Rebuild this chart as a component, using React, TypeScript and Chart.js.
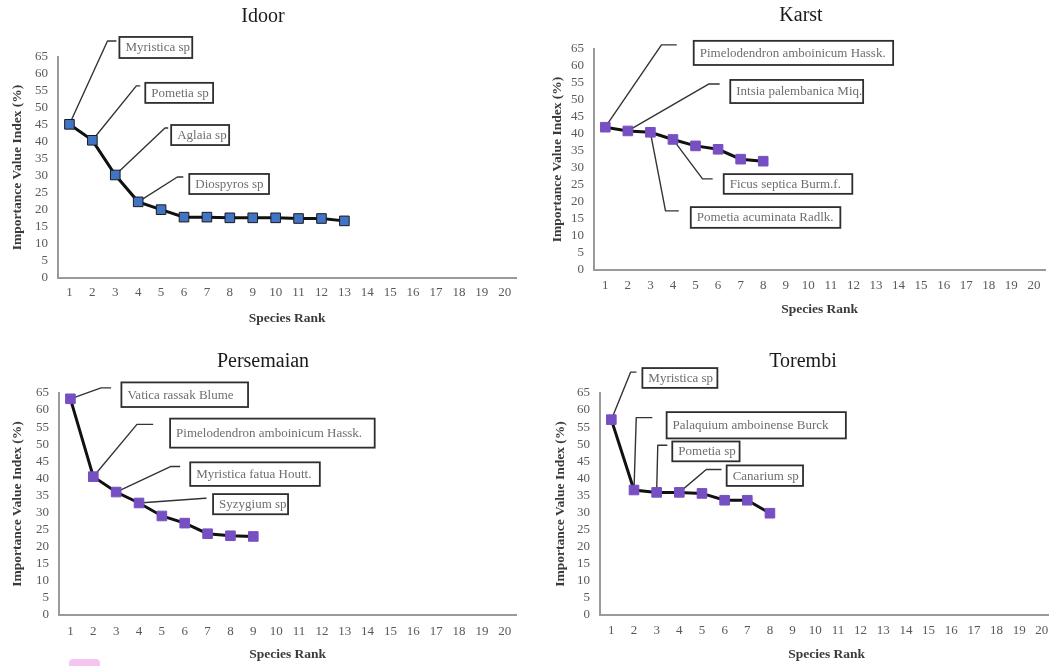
import React, { useEffect, useRef } from "react";
import { Chart, registerables } from "chart.js";

Chart.register(...registerables);

// ---------- Data ----------
const RANKS = ["1", "2", "3", "4", "5", "6", "7", "8", "9", "10", "11", "12", "13", "14", "15", "16", "17", "18", "19", "20"];
const Y_MIN = 0;
const Y_MAX = 65;
const Y_STEP = 5;

const IDOOR_VALUES = [45.2, 40.5, 30.3, 22.4, 20.1, 17.9, 17.9, 17.7, 17.7, 17.7, 17.5, 17.5, 16.8];
const KARST_VALUES = [42.0, 40.9, 40.5, 38.4, 36.5, 35.5, 32.6, 32.0];
const PERSEMAIAN_VALUES = [63.3, 40.5, 36.0, 32.8, 29.0, 26.9, 23.8, 23.2, 23.0];
const TOREMBI_VALUES = [57.2, 36.6, 35.9, 35.9, 35.6, 33.6, 33.6, 29.8];

const IDOOR_SPECIES = ["Myristica sp", "Pometia sp", "Aglaia sp", "Diospyros sp"];
const KARST_SPECIES = ["Pimelodendron amboinicum Hassk.", "Intsia palembanica Miq.", "Ficus septica Burm.f.", "Pometia acuminata Radlk."];
const PERSEMAIAN_SPECIES = ["Vatica rassak Blume", "Pimelodendron amboinicum Hassk.", "Myristica fatua Houtt.", "Syzygium sp"];
const TOREMBI_SPECIES = ["Myristica sp", "Palaquium amboinense Burck", "Pometia sp", "Canarium sp"];

const X_TITLE = "Species Rank";
const Y_TITLE = "Importance Value Index (%)";

// ---------- Callout placement (data units: x = rank index, y = value) ----------
type Callout = { text: string; point: number; elbow: [number, number]; stub: number; box: [number, number, number, number] };

const IDOOR_CALLOUTS: Callout[] = [
  { text: IDOOR_SPECIES[0], point: 0, elbow: [1.66, 69.7], stub: 2.05, box: [2.18, 70.9, 5.36, 64.7] },
  { text: IDOOR_SPECIES[1], point: 1, elbow: [2.92, 56.5], stub: 3.09, box: [3.31, 57.4, 6.27, 51.5] },
  { text: IDOOR_SPECIES[2], point: 2, elbow: [4.17, 44.1], stub: 4.31, box: [4.44, 45.0, 6.97, 39.1] },
  { text: IDOOR_SPECIES[3], point: 3, elbow: [4.71, 29.7], stub: 4.97, box: [5.23, 30.6, 8.71, 24.7] },
];
const KARST_CALLOUTS: Callout[] = [
  { text: KARST_SPECIES[0], point: 0, elbow: [2.49, 66.2], stub: 3.17, box: [3.92, 67.4, 12.76, 60.3] },
  { text: KARST_SPECIES[1], point: 1, elbow: [4.58, 54.7], stub: 5.07, box: [5.54, 55.9, 11.43, 49.1] },
  { text: KARST_SPECIES[2], point: 3, elbow: [4.31, 26.8], stub: 4.76, box: [5.25, 28.2, 10.95, 22.4] },
  { text: KARST_SPECIES[3], point: 2, elbow: [2.67, 17.4], stub: 3.26, box: [3.79, 18.5, 10.42, 12.4] },
];
const PERSEMAIAN_CALLOUTS: Callout[] = [
  { text: PERSEMAIAN_SPECIES[0], point: 0, elbow: [1.34, 66.5], stub: 1.78, box: [2.23, 68.1, 7.77, 60.9] },
  { text: PERSEMAIAN_SPECIES[1], point: 1, elbow: [2.91, 55.8], stub: 3.62, box: [4.36, 57.5, 13.31, 49.0] },
  { text: PERSEMAIAN_SPECIES[2], point: 2, elbow: [4.4, 43.5], stub: 4.8, box: [5.24, 44.7, 10.91, 37.8] },
  { text: PERSEMAIAN_SPECIES[3], point: 3, elbow: [5.89, 34.2], stub: 5.95, box: [6.24, 35.4, 9.52, 29.5] },
];
const TOREMBI_CALLOUTS: Callout[] = [
  { text: TOREMBI_SPECIES[0], point: 0, elbow: [0.85, 71.1], stub: 1.11, box: [1.37, 72.3, 4.68, 66.5] },
  { text: TOREMBI_SPECIES[1], point: 1, elbow: [1.1, 57.8], stub: 1.81, box: [2.44, 59.4, 10.35, 51.7] },
  { text: TOREMBI_SPECIES[2], point: 2, elbow: [2.05, 49.7], stub: 2.47, box: [2.69, 50.8, 5.66, 45.0] },
  { text: TOREMBI_SPECIES[3], point: 3, elbow: [4.19, 42.6], stub: 4.86, box: [5.09, 43.8, 8.46, 37.8] },
];

const SERIF = '"Liberation Serif", "Times New Roman", serif';

const calloutPlugin = {
  id: "callouts",
  beforeDatasetsDraw(chart: any, _args: any, opts: any) {
    const items: Callout[] = opts.items || [];
    const xs = chart.scales.x;
    const ys = chart.scales.y;
    const data = chart.data.datasets[0].data;
    const ctx = chart.ctx;
    ctx.save();
    ctx.strokeStyle = "#333333";
    ctx.lineWidth = 1.4;
    ctx.lineJoin = "round";
    for (const it of items) {
      const px = xs.getPixelForValue(it.point);
      const py = ys.getPixelForValue(data[it.point]);
      const ex = xs.getPixelForValue(it.elbow[0]);
      const ey = ys.getPixelForValue(it.elbow[1]);
      const sx = xs.getPixelForValue(it.stub);
      ctx.beginPath();
      ctx.moveTo(px, py);
      ctx.lineTo(ex, ey);
      ctx.lineTo(sx, ey);
      ctx.stroke();
    }
    ctx.restore();
  },
  afterDatasetsDraw(chart: any, _args: any, opts: any) {
    const items: Callout[] = opts.items || [];
    const xs = chart.scales.x;
    const ys = chart.scales.y;
    const ctx = chart.ctx;
    ctx.save();
    for (const it of items) {
      const x1 = xs.getPixelForValue(it.box[0]);
      const y1 = ys.getPixelForValue(it.box[1]);
      const x2 = xs.getPixelForValue(it.box[2]);
      const y2 = ys.getPixelForValue(it.box[3]);
      ctx.fillStyle = "#ffffff";
      ctx.fillRect(x1, y1, x2 - x1, y2 - y1);
      ctx.strokeStyle = "#2e2e2e";
      ctx.lineWidth = 1.8;
      ctx.strokeRect(x1, y1, x2 - x1, y2 - y1);
      ctx.fillStyle = "#6e6e6e";
      ctx.font = `13px ${SERIF}`;
      ctx.textBaseline = "middle";
      ctx.textAlign = "left";
      ctx.fillText(it.text, x1 + 6, (y1 + y2) / 2 + 0.5);
    }
    ctx.restore();
  },
};

type PanelLayout = {
  left: number; top: number; width: number; height: number;
  padL: number; yAxisW: number; xAxisH: number;
  titlePadTop: number; titlePadBottom: number;
  yTitlePad: number; xTickPad: number; xTitlePadBottom: number;
};

type PanelProps = {
  title: string;
  values: number[];
  callouts: Callout[];
  layout: PanelLayout;
  fill: string;
  border: string;
};

function Panel({ title, values, callouts, layout, fill, border }: PanelProps) {
  const ref = useRef<HTMLCanvasElement | null>(null);
  useEffect(() => {
    if (!ref.current) return;
    const chart = new Chart(ref.current, {
      type: "line",
      data: {
        labels: RANKS,
        datasets: [
          {
            data: values,
            borderColor: "#111111",
            borderWidth: 3,
            tension: 0,
            pointStyle: "rect",
            pointRadius: 6.8,
            pointBackgroundColor: fill,
            pointBorderColor: border,
            pointBorderWidth: 1,
          },
        ],
      },
      options: {
        responsive: false,
        animation: false,
        events: [],
        layout: { padding: { left: layout.padL, right: 0, top: 0, bottom: 0 } },
        plugins: {
          legend: { display: false },
          tooltip: { enabled: false },
          title: {
            display: true,
            text: title,
            color: "#1a1a1a",
            font: { family: SERIF, size: 20, weight: "normal", lineHeight: 1.2 },
            padding: { top: layout.titlePadTop, bottom: layout.titlePadBottom },
          },
          callouts: { items: callouts },
        } as any,
        scales: {
          x: {
            type: "category",
            offset: true,
            grid: { display: false, drawTicks: false, tickLength: 0 },
            border: { display: true, color: "#9a9a9a", width: 2 },
            ticks: {
              color: "#595959",
              font: { family: SERIF, size: 13, lineHeight: 1.2 },
              padding: layout.xTickPad,
              autoSkip: false,
              maxRotation: 0,
            },
            title: {
              display: true,
              text: X_TITLE,
              color: "#3a3a3a",
              font: { family: SERIF, size: 13.5, weight: "bold", lineHeight: 1.2 },
              padding: { top: 0, bottom: layout.xTitlePadBottom },
            },
            afterFit: (scale: any) => {
              scale.height = layout.xAxisH;
              scale.paddingLeft = 0;
              scale.paddingRight = 0;
            },
          },
          y: {
            type: "linear",
            min: Y_MIN,
            max: Y_MAX,
            grid: { display: false, drawTicks: false, tickLength: 0 },
            border: { display: true, color: "#9a9a9a", width: 2 },
            ticks: {
              stepSize: Y_STEP,
              autoSkip: false,
              color: "#595959",
              font: { family: SERIF, size: 13, lineHeight: 1.2 },
              padding: 10,
            },
            title: {
              display: true,
              text: Y_TITLE,
              color: "#3a3a3a",
              font: { family: SERIF, size: 13.5, weight: "bold", lineHeight: 1.2 },
              padding: { top: layout.yTitlePad, bottom: 0 },
            },
            afterFit: (scale: any) => {
              scale.width = layout.yAxisW;
            },
          },
        },
      } as any,
      plugins: [calloutPlugin as any],
    });
    return () => chart.destroy();
  }, []);
  return (
    <canvas
      ref={ref}
      width={layout.width}
      height={layout.height}
      style={{ position: "absolute", left: layout.left, top: layout.top, width: layout.width, height: layout.height }}
    />
  );
}

const IDOOR_LAYOUT: PanelLayout = { left: 0, top: 0, width: 524, height: 330, padL: 2, yAxisW: 56, xAxisH: 52, titlePadTop: 5, titlePadBottom: 28, yTitlePad: 7, xTickPad: 7, xTitlePadBottom: 3 };
const KARST_LAYOUT: PanelLayout = { left: 540, top: 0, width: 513, height: 330, padL: 9, yAxisW: 45, xAxisH: 60, titlePadTop: 4, titlePadBottom: 21, yTitlePad: 0, xTickPad: 8, xTitlePadBottom: 12 };
const PERSEMAIAN_LAYOUT: PanelLayout = { left: 0, top: 330, width: 524, height: 336, padL: 2, yAxisW: 57, xAxisH: 51, titlePadTop: 20, titlePadBottom: 19, yTitlePad: 7.5, xTickPad: 9, xTitlePadBottom: 3 };
const TOREMBI_LAYOUT: PanelLayout = { left: 540, top: 330, width: 521, height: 336, padL: 5, yAxisW: 55, xAxisH: 51, titlePadTop: 20, titlePadBottom: 19, yTitlePad: 7, xTickPad: 7.5, xTitlePadBottom: 3 };

const BLUE = "#4274c6";
const BLUE_EDGE = "#1b1b1b";
const PURPLE = "#7650c2";

export default function App() {
  return (
    <div style={{ position: "fixed", left: 0, top: 0, width: 1049, height: 666, overflow: "hidden", background: "#ffffff" }}>
      <Panel title="Idoor" values={IDOOR_VALUES} callouts={IDOOR_CALLOUTS} layout={IDOOR_LAYOUT} fill={BLUE} border={BLUE_EDGE} />
      <Panel title="Karst" values={KARST_VALUES} callouts={KARST_CALLOUTS} layout={KARST_LAYOUT} fill={PURPLE} border={PURPLE} />
      <Panel title="Persemaian" values={PERSEMAIAN_VALUES} callouts={PERSEMAIAN_CALLOUTS} layout={PERSEMAIAN_LAYOUT} fill={PURPLE} border={PURPLE} />
      <Panel title="Torembi" values={TOREMBI_VALUES} callouts={TOREMBI_CALLOUTS} layout={TOREMBI_LAYOUT} fill={PURPLE} border={PURPLE} />
      <div style={{ position: "absolute", left: 69, top: 659, width: 31, height: 10, borderRadius: 4, background: "#f6c4f0" }} />
    </div>
  );
}
